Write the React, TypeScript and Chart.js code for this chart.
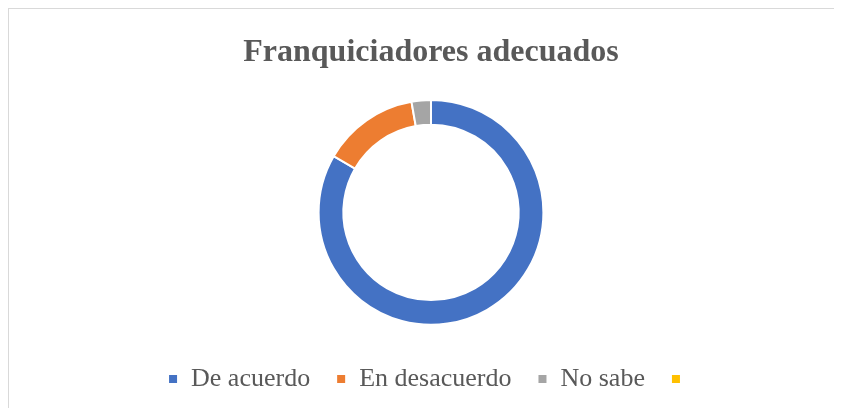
import React, { useEffect, useRef } from "react";
import { Chart, registerables } from "chart.js";

Chart.register(...registerables);

const categories = ["De acuerdo", "En desacuerdo", "No sabe", ""];
const values = [30, 5, 1, 0];
const colors = ["#4472C4", "#ED7D31", "#A5A5A5", "#FFC000"];
const titleText = "Franquiciadores adecuados";

export default function App() {
  const ref = useRef<HTMLCanvasElement | null>(null);
  useEffect(() => {
    if (!ref.current) return;
    const chart = new Chart(ref.current, {
      type: "doughnut",
      data: {
        labels: categories,
        datasets: [
          {
            data: values,
            backgroundColor: colors,
            borderColor: "#ffffff",
            borderWidth: 2,
            hoverOffset: 0,
          },
        ],
      },
      options: {
        animation: false,
        responsive: false,
        cutout: "78%",
        layout: { padding: { left: 11, right: 0, top: 0, bottom: 6 } },
        plugins: {
          title: {
            display: true,
            text: titleText,
            color: "#595959",
            font: { family: "'Liberation Serif', 'Times New Roman', serif", size: 32, weight: "bold" },
            padding: { top: 25, bottom: 26.6 },
          },
          legend: {
            position: "bottom",
            title: {
              display: true,
              text: " ",
              font: { size: 1 },
              padding: { top: 0, bottom: 13 },
            },
            labels: {
              color: "#595959",
              boxWidth: 10,
              boxHeight: 10,
              padding: 26,
              font: { family: "'Liberation Serif', 'Times New Roman', serif", size: 26 },
            },
          },
          tooltip: { enabled: false },
        },
      },
    });
    return () => chart.destroy();
  }, []);
  return (
    <div
      style={{
        width: 834,
        height: 400,
        boxSizing: "border-box",
        borderTop: "1px solid #d9d9d9",
        borderLeft: "1px solid #d9d9d9",
        background: "#ffffff",
        overflow: "hidden",
      }}
    >
      <canvas ref={ref} width={833} height={399} style={{ display: "block" }} />
    </div>
  );
}
